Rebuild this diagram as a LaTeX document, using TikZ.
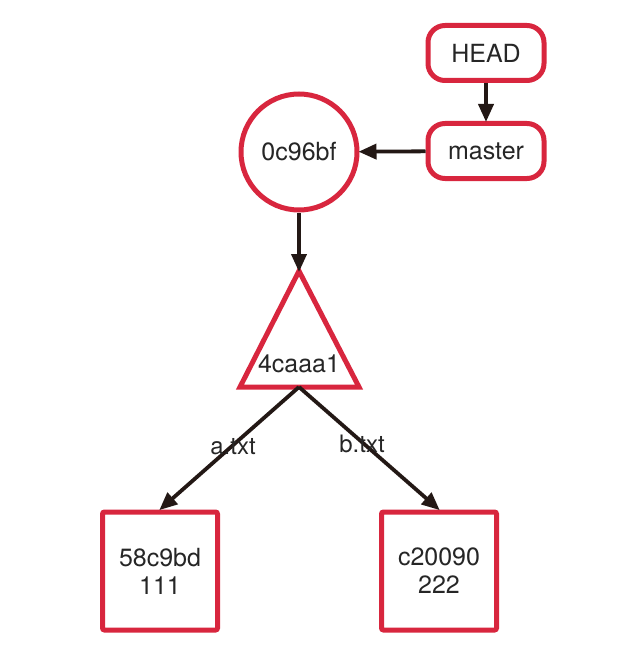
\documentclass[tikz,border=0pt]{standalone}
\usepackage{fontspec}
\setmainfont{TeX Gyre Heros}
\usetikzlibrary{arrows.meta,shapes.geometric}
\definecolor{gred}{HTML}{D8263E}
\definecolor{garrow}{HTML}{231815}
\tikzset{
  every node/.style={font=\fontsize{25}{28}\selectfont, text=black!85},
  refbox/.style={draw=gred, line width=5pt, rounded corners=17pt, minimum width=116pt, minimum height=55pt},
  commitnode/.style={draw=gred, line width=5pt, circle, minimum size=116pt, inner sep=0pt},
  blobbox/.style={draw=gred, line width=5pt, rounded corners=2pt, minimum width=115pt, minimum height=118pt, align=center},
  conn/.style={draw=garrow, line width=3.8pt, -{Triangle[length=18pt,width=15pt]}, shorten >=-1pt},
  edgelabel/.style={font=\fontsize{24}{26}\selectfont}
}
\begin{document}
\begin{tikzpicture}[x=1pt,y=-1pt]
\useasboundingbox (0,0) rectangle (640,658);
\node[refbox] (head) at (486,53) {HEAD};
\node[refbox] (master) at (486,151) {master};
\node[commitnode] (commit) at (299,152) {0c96bf};
% tree triangle
\coordinate (treetop) at (299,271);
\coordinate (treebase) at (299,387);
\draw[gred, line width=5pt, line join=miter] (299,271) -- (359,387) -- (240,387) -- cycle;
\node (tree) at (299,364) {4caaa1};
\node[blobbox] (blobA) at (160,571) {58c9bd\\111};
\node[blobbox] (blobB) at (439,571) {c20090\\222};
\draw[conn] (head) -- (master);
\draw[conn] (master) -- (commit);
\draw[conn] (commit) -- (treetop);
\draw[conn] (treebase) -- (blobA.north);
\draw[conn] (treebase) -- (blobB.north);
\node[edgelabel] (la) at (233,447) {a.txt};
\node[edgelabel] (lb) at (362,444) {b.txt};
\end{tikzpicture}
\end{document}
